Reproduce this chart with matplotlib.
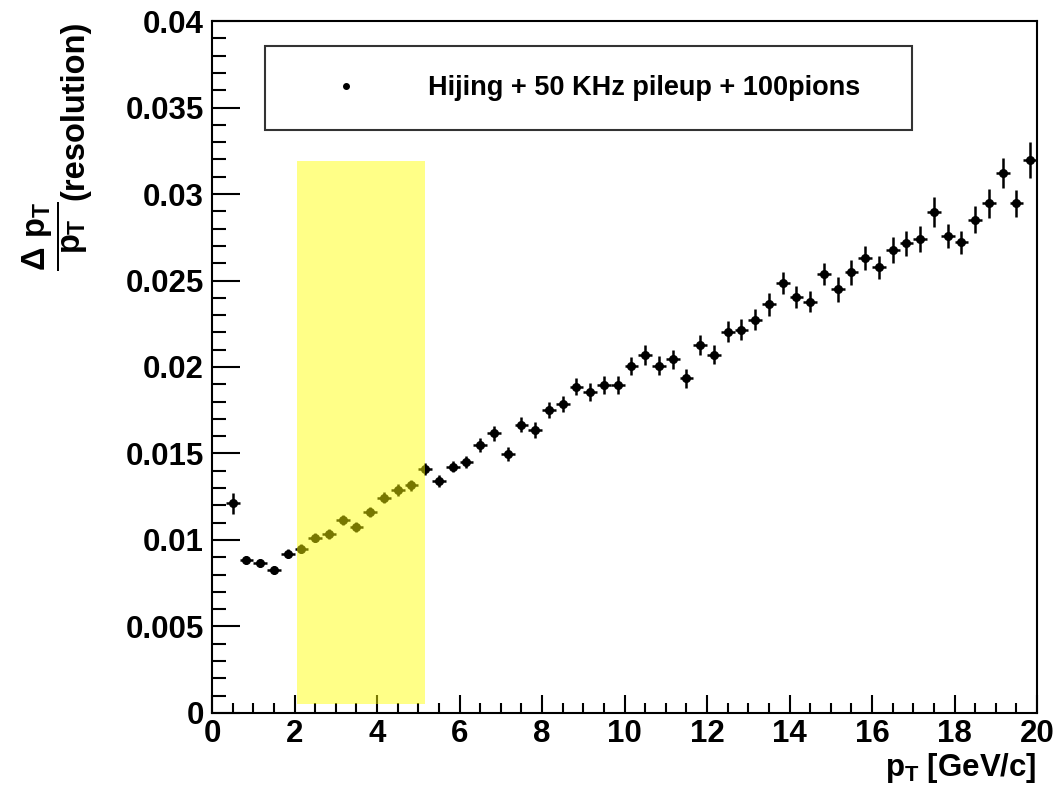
import numpy as np
import matplotlib
matplotlib.use("Agg")
import matplotlib.pyplot as plt
from matplotlib import ticker
from matplotlib.lines import Line2D
from matplotlib.patches import Rectangle

plt.rcParams['font.family'] = 'Liberation Sans'
plt.rcParams['font.weight'] = 'bold'
plt.rcParams['axes.labelweight'] = 'bold'
plt.rcParams['mathtext.fontset'] = 'custom'
plt.rcParams['mathtext.rm'] = 'Liberation Sans:bold'
plt.rcParams['mathtext.it'] = 'Liberation Sans:bold'
plt.rcParams['mathtext.bf'] = 'Liberation Sans:bold'

# ------------------------------
# Datos (centros de bin 1/3 GeV, resolucion y error)
# ------------------------------
pt = [0.500, 0.833, 1.167, 1.500, 1.833, 2.167, 2.500, 2.833, 3.167, 3.500,
      3.833, 4.167, 4.500, 4.833, 5.167, 5.500, 5.833, 6.167, 6.500, 6.833,
      7.167, 7.500, 7.833, 8.167, 8.500, 8.833, 9.167, 9.500, 9.833, 10.167,
      10.500, 10.833, 11.167, 11.500, 11.833, 12.167, 12.500, 12.833, 13.167, 13.500,
      13.833, 14.167, 14.500, 14.833, 15.167, 15.500, 15.833, 16.167, 16.500, 16.833,
      17.167, 17.500, 17.833, 18.167, 18.500, 18.833, 19.167, 19.500, 19.833]
pt_err = 1/6  # medio ancho de bin

res = [0.01212, 0.00883, 0.00869, 0.00827, 0.00921, 0.00950, 0.01013, 0.01037, 0.01116, 0.01075,
       0.01160, 0.01245, 0.01289, 0.01316, 0.01410, 0.01341, 0.01424, 0.01453, 0.01547, 0.01618,
       0.01497, 0.01667, 0.01636, 0.01753, 0.01788, 0.01886, 0.01853, 0.01898, 0.01898, 0.02004,
       0.02067, 0.02008, 0.02044, 0.01935, 0.02127, 0.02071, 0.02204, 0.02216, 0.02273, 0.02362,
       0.02486, 0.02405, 0.02378, 0.02539, 0.02449, 0.02547, 0.02630, 0.02576, 0.02676, 0.02715,
       0.02738, 0.02896, 0.02757, 0.02721, 0.02852, 0.02946, 0.03120, 0.02946, 0.03197]

res_err = [6.2, 2.3, 2.3, 2.3, 2.6, 2.6, 2.6, 2.9, 2.9, 2.9,
           3.0, 3.2, 3.2, 3.3, 3.5, 3.5, 3.3, 3.5, 4.0, 4.3,
           4.0, 4.3, 4.5, 4.5, 4.6, 5.0, 5.2, 5.2, 5.2, 5.1,
           5.8, 5.4, 5.4, 5.4, 5.7, 5.4, 6.1, 6.2, 6.1, 6.5,
           6.4, 6.5, 5.9, 6.5, 7.3, 7.1, 6.9, 6.6, 7.5, 7.3,
           7.5, 8.7, 7.1, 6.8, 7.8, 8.5, 8.6, 7.9, 10.6]
res_err = np.array(res_err) * 1e-4

# zona resaltada (pT, resolucion)
band_x = [2.06, 5.16]
band_y = [0.0005, 0.0319]

legend_label = "Hijing + 50 KHz pileup + 100pions"

# ------------------------------
# Grafica
# ------------------------------
fig = plt.figure(figsize=(10.57, 7.96), dpi=100)
ax = fig.add_axes([0.2006, 0.1043, 0.7805, 0.8693])

ax.errorbar(pt, res, xerr=pt_err, yerr=res_err, fmt='o', color='black',
            ms=5.5, elinewidth=1.8, capsize=0, zorder=3)

ax.add_patch(Rectangle((band_x[0], band_y[0]), band_x[1] - band_x[0], band_y[1] - band_y[0],
                       facecolor='yellow', alpha=0.47, edgecolor='none', zorder=4))

ax.set_xlim(0, 20)
ax.set_ylim(0, 0.04)
ax.xaxis.set_major_locator(ticker.MultipleLocator(2))
ax.xaxis.set_minor_locator(ticker.MultipleLocator(0.5))
ax.yaxis.set_major_locator(ticker.MultipleLocator(0.005))
ax.yaxis.set_minor_locator(ticker.MultipleLocator(0.001))
ax.xaxis.set_major_formatter(ticker.FormatStrFormatter('%g'))
ax.yaxis.set_major_formatter(ticker.FormatStrFormatter('%g'))
ax.tick_params(which='both', direction='in', top=False, right=False, width=1.5, labelsize=22.5)
ax.tick_params(axis='y', which='major', length=20, pad=6)
ax.tick_params(axis='y', which='minor', length=10)
ax.tick_params(axis='x', which='major', length=13, pad=4)
ax.tick_params(axis='x', which='minor', length=7)
for s in ax.spines.values():
    s.set_linewidth(1.5)

ax.set_xlabel(r'$p_{T}$ [GeV/c]', fontsize=22.5, loc='right')
ax.xaxis.set_label_coords(1.0, -0.055)

# titulo del eje y: fraccion + "(resolution)" (la fraccion va levantada como en ROOT)
fig.text(55/1057, 1 - 236/796, r'$\dfrac{\Delta\ p_{T}}{p_{T}}$', fontsize=23.5,
         rotation=90, ha='center', va='center')
fig.text(75/1057, 1 - 110/796, '(resolution)', fontsize=23.5, fontweight='bold',
         rotation=90, ha='center', va='center')

h = Line2D([], [], marker='o', ls='none', color='black', ms=4)
leg = fig.legend([h], [legend_label], loc='upper left',
                 bbox_to_anchor=(0.2507, 0.7, 0.612, 0.2422), mode='expand',
                 borderaxespad=0, frameon=True, fancybox=False, fontsize=19.5,
                 borderpad=1.07, handlelength=3.84, handletextpad=1.1)
leg.get_frame().set_edgecolor('black')
leg.get_frame().set_linewidth(1.5)

fig.savefig('out.png', dpi=100)
